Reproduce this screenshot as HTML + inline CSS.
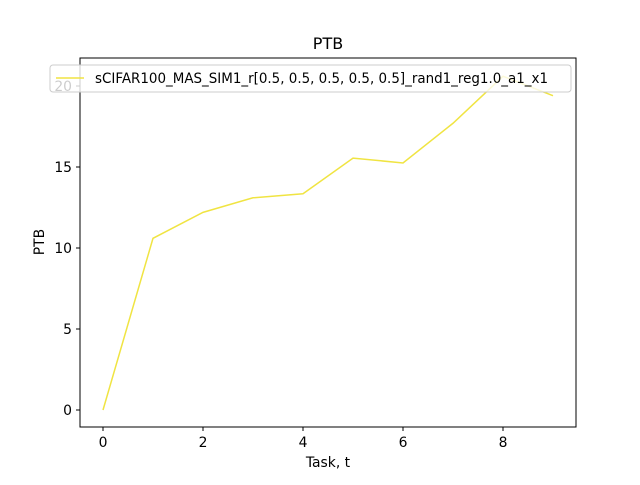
<!DOCTYPE html>
<html><head><style>
body{margin:0;background:#fff;}
svg text{font-family:"DejaVu Sans","Liberation Sans",sans-serif;}
</style></head><body>
<svg width="640" height="480" xmlns="http://www.w3.org/2000/svg">
<rect width="640" height="480" fill="#fff"/>
<text x="328" y="49" font-size="16" text-anchor="middle">PTB</text>
<g id="ticks"></g>
<polyline id="line" fill="none" stroke="#f0e442" stroke-width="1.5"/>
<rect x="80" y="58" width="496" height="369" fill="none" stroke="#000" stroke-width="1"/>
<text x="328" y="467" font-size="13.9" text-anchor="middle">Task, t</text>
<text transform="translate(44,242) rotate(-90)" font-size="13.9" text-anchor="middle">PTB</text>
<g>
<rect x="50" y="65" width="521" height="27" rx="3" fill="#fff" fill-opacity="0.8" stroke="#ccc"/>
<line x1="56" y1="78" x2="84" y2="78" stroke="#f0e442" stroke-width="1.5"/>
<text x="95" y="83" font-size="13.9" textLength="453" lengthAdjust="spacingAndGlyphs">sCIFAR100_MAS_SIM1_r[0.5, 0.5, 0.5, 0.5, 0.5]_rand1_reg1.0_a1_x1</text>
</g>
</svg>
<script>
const tasks=[0,1,2,3,4,5,6,7,8,9];
const ptb=[0,10.6,12.2,13.1,13.35,15.55,15.25,17.7,20.6,19.4];
const xTicks=[0,2,4,6,8];
const yTicks=[0,5,10,15,20];
const xs=t=>103+t*50;
const ys=v=>410-v*16.2;
const ns="http://www.w3.org/2000/svg";
const g=document.getElementById('ticks');
function mk(tag,a){const e=document.createElementNS(ns,tag);for(const k in a)e.setAttribute(k,a[k]);g.appendChild(e);return e;}
xTicks.forEach(t=>{
 const l=mk('line',{x1:xs(t),x2:xs(t),y1:427,y2:431,stroke:'#000'});
 
 
 const tx=mk('text',{x:xs(t),y:447,'font-size':13.9,'text-anchor':'middle'});tx.textContent=t;
 
 
});
yTicks.forEach(v=>{
 const l=mk('line',{x1:76,x2:80,y1:ys(v),y2:ys(v),stroke:'#000'});
 
 
 const tx=mk('text',{x:72,y:ys(v)+5,'font-size':13.9,'text-anchor':'end'});tx.textContent=v;
 
 
});
document.getElementById('line').setAttribute('points',tasks.map((t,i)=>xs(t)+','+ys(ptb[i])).join(' '));
</script>
</body></html>
